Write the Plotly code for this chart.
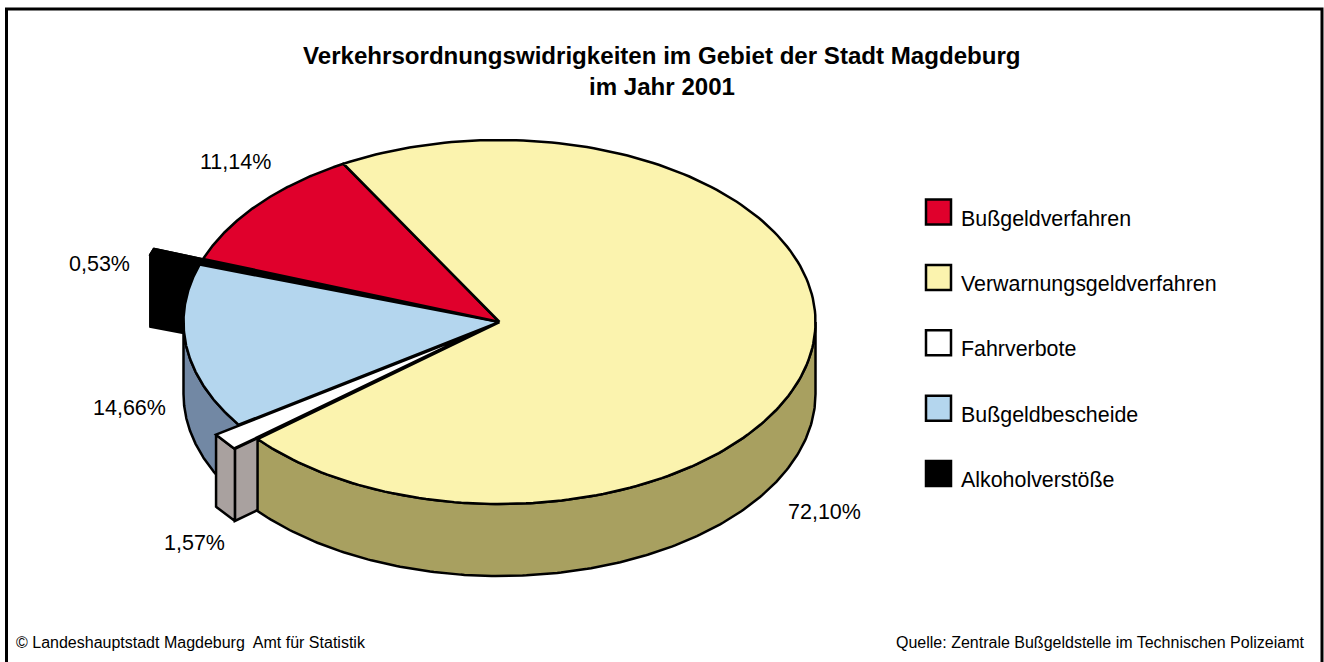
import numpy as np
import plotly.graph_objects as go

categories = ["Bußgeldverfahren", "Verwarnungsgeldverfahren", "Fahrverbote", "Bußgeldbescheide", "Alkoholverstöße"]
values = [11.14, 72.10, 1.57, 14.66, 0.53]
labels = ["11,14%", "72,10%", "1,57%", "14,66%", "0,53%"]
explode = [0, 0, 0.09, 0, 0.165]
top_colors = ["#E0002C", "#FBF3AE", "#FFFFFF", "#B4D6EE", "#000000"]
side_colors = ["#8A0018", "#A8A060", "#A9A19F", "#7288A4", "#000000"]
title_lines = ["Verkehrsordnungswidrigkeiten im Gebiet der Stadt Magdeburg", "im Jahr 2001"]
source_left = "© Landeshauptstadt Magdeburg  Amt für Statistik"
source_right = "Quelle: Zentrale Bußgeldstelle im Technischen Polizeiamt"

W, H = 1324, 662
CX, CY, RX, RY, DEPTH = 499.5, 322, 316, 182, 72
START = 159.7 + 360  # start of the first slice, degrees on the ellipse, going clockwise
FONT = "Liberation Sans"
LW = 2.5

# slice angles, clockwise in order: red, yellow, white, blue, black
angles = []
a = START
for v in values:
    a2 = a - v * 3.6
    angles.append((a, a2))
    a = a2


def off(i):
    mid = np.radians(sum(angles[i]) / 2)
    return explode[i] * RX * np.cos(mid), -explode[i] * RY * np.sin(mid)


def arc(i, n=200):
    t = np.radians(np.linspace(angles[i][0], angles[i][1], n))
    dx, dy = off(i)
    return CX + dx + RX * np.cos(t), CY + dy - RY * np.sin(t)


def poly(fig, xs, ys, fill):
    fig.add_trace(go.Scatter(
        x=list(xs) + [xs[0]], y=list(ys) + [ys[0]], mode="lines", fill="toself", fillcolor=fill,
        line=dict(color="#000000", width=LW), hoverinfo="skip", showlegend=False))


def side_outer(fig, i, lo, hi):
    """Extruded rim of slice i, for the part of its arc with lo<=angle<=hi."""
    t0, t1 = sorted(angles[i])
    t = np.radians(np.linspace(max(t0, lo), min(t1, hi), 200))
    dx, dy = off(i)
    x = CX + dx + RX * np.cos(t)
    y = CY + dy - RY * np.sin(t)
    poly(fig, np.r_[x, x[::-1]], np.r_[y, y[::-1] + DEPTH], side_colors[i])


def side_radial(fig, i, which):
    dx, dy = off(i)
    t = np.radians(angles[i][which])
    px, py = CX + dx + RX * np.cos(t), CY + dy - RY * np.sin(t)
    qx, qy = CX + dx, CY + dy
    poly(fig, [px, qx, qx, px], [py, qy, qy + DEPTH, py + DEPTH], side_colors[i])


def top(fig, i):
    x, y = arc(i)
    dx, dy = off(i)
    poly(fig, np.r_[CX + dx, x], np.r_[CY + dy, y], top_colors[i])


fig = go.Figure()
RED, YEL, WHT, BLU, BLK = 0, 1, 2, 3, 4

# back to front
side_radial(fig, BLK, 1)
side_radial(fig, BLK, 0)
side_outer(fig, BLK, 0, 720)
top(fig, BLK)
side_outer(fig, BLU, 180, 360)
side_radial(fig, WHT, 0)
side_outer(fig, WHT, 180, 360)
top(fig, WHT)
side_outer(fig, YEL, 180, 360)
top(fig, BLU)
top(fig, RED)
top(fig, YEL)

# value labels
label_pos = [(235, 162), (824, 512), (194, 543), (129, 408), (99, 264)]
for txt, (lx, ly) in zip(labels, label_pos):
    fig.add_annotation(x=lx, y=ly, text=txt, showarrow=False, font=dict(family=FONT, size=21.5, color="#000000"),
                       xanchor="center", yanchor="middle")

# legend
for k, (name, col) in enumerate(zip(categories, top_colors)):
    yc = 212 + k * 65.4
    fig.add_trace(go.Scatter(x=[938.5], y=[yc], mode="markers", showlegend=False, hoverinfo="skip",
                             marker=dict(symbol="square", size=25, color=col, line=dict(color="#000000", width=2.5))))
    fig.add_annotation(x=959, y=yc + 6.5, text=name, showarrow=False, xanchor="left", yanchor="middle",
                       font=dict(family=FONT, size=21.4, color="#000000"))

# title and sources
for ln, yc in zip(title_lines, (55, 86)):
    fig.add_annotation(x=662, y=yc, text="<b>%s</b>" % ln, showarrow=False, xanchor="center", yanchor="middle",
                       font=dict(family=FONT, size=24.1, color="#000000"))
fig.add_annotation(x=14, y=642, text=source_left, showarrow=False, xanchor="left", yanchor="middle",
                   font=dict(family=FONT, size=16, color="#000000"))
fig.add_annotation(x=1306, y=642, text=source_right, showarrow=False, xanchor="right", yanchor="middle",
                   font=dict(family=FONT, size=16, color="#000000"))

# frame
fig.add_shape(type="rect", x0=6.5, y0=9, x1=1322, y1=664, line=dict(color="#000000", width=3), layer="below")

fig.update_layout(
    width=W, height=H, margin=dict(l=0, r=0, t=0, b=0), paper_bgcolor="#FFFFFF", plot_bgcolor="#FFFFFF",
    xaxis=dict(range=[0, W], visible=False, fixedrange=True),
    yaxis=dict(range=[H, 0], visible=False, fixedrange=True),
    showlegend=False,
)
fig.write_html("out.html", post_script="document.body.style.margin='0';document.documentElement.style.overflow='hidden';",
               config=dict(displayModeBar=False))
